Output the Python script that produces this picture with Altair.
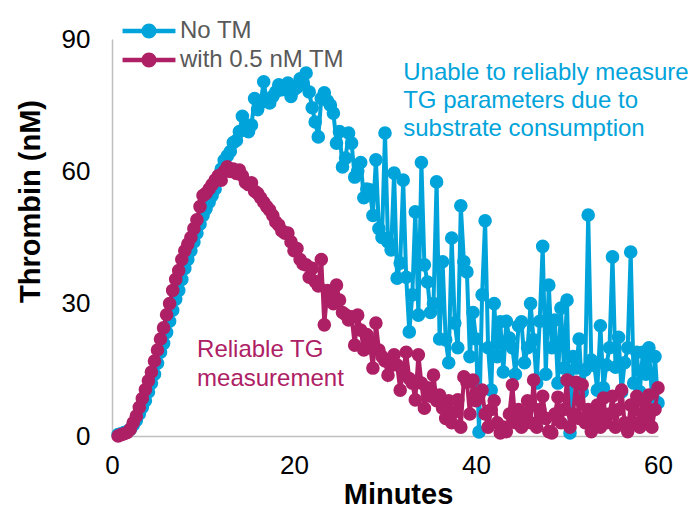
import altair as alt
import pandas as pd

# Sampling grid: one reading every 20 s (1/3 min), from 0.67 to 60 min
minutes = [round(k / 3, 2) for k in range(2, 181)]

no_tm = [
    0.3, 0.5, 0.8, 1.0, 1.5, 2.5, 3.5, 5, 6.5, 8,
    10, 12, 14, 16.5, 19, 21, 23.5, 26, 28.5, 31,
    33, 35.5, 38, 40, 42, 44, 46, 48, 50, 51.5,
    53, 54.5, 56, 58, 60.5, 62.5, 63.5, 64.5, 66.5, 67,
    69, 72.5, 70, 69, 70.5, 76.5, 74, 75.5, 80.3, 76,
    75.5, 77, 78, 79.6, 78.5, 79, 80, 77, 78.5, 79,
    81, 80, 82.3, 78, 74.4, 71.2, 67.8, 76.5, 77.8, 76,
    75, 73.2, 66.4, 69, 61, 63, 68.7, 66.4, 58.7, 60,
    62, 54, 56, 55.8, 50, 62.6, 47, 45, 68.7, 44,
    42.2, 59.6, 35.8, 39.2, 58, 36, 23.6, 32, 50.8, 27.4,
    62, 38.8, 34.9, 28, 30, 57.6, 22, 39.5, 21.8, 16.6,
    44.9, 25.6, 20, 52.2, 39.5, 37.2, 18, 28, 22, 0.9,
    32, 48.8, 20, 10.4, 30, 18, 25.9, 14.5, 26, 22.2,
    20, 14, 25, 25.9, 16.6, 20, 30, 21.8, 12, 26,
    43, 14, 34.2, 20, 26.3, 12, 29, 15.4, 30.8, 0.7,
    18, 15.4, 22, 10, 15, 50.1, 17.2, 16, 10.4, 25,
    10.9, 16.1, 20, 40.6, 15.6, 22.4, 10, 16.6, 20, 41.7,
    12, 19, 10, 19, 14, 20, 9, 18, 7.5,
]

with_tm = [
    0, 0.3, 0.5, 0.8, 1.5, 3, 4.5, 6.5, 8.5, 10.5,
    12.5, 14.5, 17, 19.5, 22, 24.5, 27.5, 30, 33, 35.5,
    37.5, 40, 42, 43.5, 45, 47, 49, 52, 54.5, 55,
    56, 57, 58, 59, 58, 60, 61, 60, 60.5, 59.5,
    60.3, 59, 57.5, 57, 57.4, 55.5, 55, 54, 53, 52,
    51.2, 50, 48.5, 47.8, 46.5, 46, 46, 44, 42, 42.5,
    40, 39, 38.8, 36, 38, 35, 34, 40, 25.2, 33,
    31, 30, 34.2, 30.8, 28, 27.5, 26.3, 27, 20.6, 27.4,
    24, 19.5, 23, 21, 15.4, 25.6, 19.5, 18, 17, 13.8,
    16, 18.4, 16.1, 10.4, 15, 19, 13, 12, 8.2, 18.4,
    12, 6.3, 10.9, 9, 13.8, 8, 9.3, 6.3, 4, 8,
    3, 5.5, 8.2, 2, 13.4, 12.2, 5, 12.7, 8, 9.3,
    10.4, 5, 2, 6, 8, 3, 0.7, 2, 1, 5,
    11.6, 3, 6, 2, 4, 8, 3, 12.7, 2, 6,
    9, 4, 1, 0.7, 5, 8.8, 3, 6, 12.7, 2,
    5, 12.2, 4, 11.6, 3, 6, 1, 4, 7, 2,
    8.6, 3, 5, 9, 2, 6, 10.4, 3, 1, 7,
    3, 9, 2, 8, 4, 9.3, 2, 6, 10.9,
]

series_names = ["No TM", "with 0.5 nM TM"]
series_colors = ["#00A3DA", "#AE2065"]

x_ticks = [0, 20, 40, 60]
y_ticks = [0, 30, 60, 90]

note_blue = ["Unable to reliably measure", "TG parameters due to", "substrate consumption"]
note_blue_x = [32.0, 32.0, 32.0]
note_blue_y = [82.3, 75.9, 69.5]
note_mag = ["Reliable TG", "measurement"]
note_mag_x = [9.35, 9.35]
note_mag_y = [19.5, 13.0]

rows = []
for t, v in zip(minutes, no_tm):
    rows.append({"Minutes": t, "Thrombin": v, "Series": series_names[0]})
for t, v in zip(minutes, with_tm):
    rows.append({"Minutes": t, "Thrombin": v, "Series": series_names[1]})
df = pd.DataFrame(rows)

notes_b = pd.DataFrame({"x": note_blue_x, "y": note_blue_y, "t": note_blue})
notes_m = pd.DataFrame({"x": note_mag_x, "y": note_mag_y, "t": note_mag})

FONT = "Liberation Sans"

xscale = alt.Scale(domain=[0, 60], nice=False)
yscale = alt.Scale(domain=[0, 90], nice=False)
xenc = alt.X("Minutes:Q", scale=xscale,
             axis=alt.Axis(values=x_ticks, title="Minutes", grid=False, ticks=False,
                           labelFlush=False,
                           domainColor="#BFBFBF", domainWidth=1.5,
                           labelFontSize=26, labelColor="black", labelFont=FONT,
                           labelPadding=16, titleFontSize=29, titleFont=FONT,
                           titleFontWeight="bold", titleColor="black",
                           titleX=286, titleY=58, titleBaseline="middle"))
yenc = alt.Y("Thrombin:Q", scale=yscale,
             axis=alt.Axis(values=y_ticks, title="Thrombin (nM)", grid=False, ticks=False,
                           labelFlush=False,
                           domainColor="#BFBFBF", domainWidth=1.5,
                           labelFontSize=26, labelColor="black", labelFont=FONT,
                           labelPadding=22, titleFontSize=29, titleFont=FONT,
                           titleFontWeight="bold", titleColor="black",
                           titleX=-82, titleY=162, titleBaseline="middle"))

fill_scale = alt.Scale(domain=series_names, range=series_colors)
sym_path = ("M-2.52,-0.214 L2.52,-0.214 L2.52,0.214 L-2.52,0.214 Z "
            "M-0.714,0 A0.714,0.714 0 1,1 0.714,0 A0.714,0.714 0 1,1 -0.714,0 Z")

layers = []
for name, col in zip(series_names, series_colors):
    base = alt.Chart(df).transform_filter(alt.datum.Series == name)
    line = base.mark_line(strokeWidth=4, color=col).encode(
        x=xenc, y=yenc,
        order="Minutes:Q",
    )
    pts = base.mark_circle(size=185, opacity=1).encode(
        x=xenc, y=yenc,
        fill=alt.Fill("Series:N", scale=fill_scale,
                      legend=alt.Legend(title=None, orient="none", legendX=25, legendY=-20,
                                        symbolType=sym_path, symbolSize=441,
                                        symbolStrokeWidth=0, symbolOpacity=1,
                                        labelOffset=19, labelLimit=400,
                                        labelFontSize=24, labelFont=FONT,
                                        labelColor="#595959", rowPadding=5, padding=0)),
    )
    layers += [line, pts]

txt_b = alt.Chart(notes_b).mark_text(align="left", baseline="middle", fontSize=24,
                                     font=FONT, color="#00A3DA").encode(
    x=alt.X("x:Q", scale=xscale), y=alt.Y("y:Q", scale=yscale), text="t:N")
txt_m = alt.Chart(notes_m).mark_text(align="left", baseline="middle", fontSize=24,
                                     font=FONT, color="#AE2065").encode(
    x=alt.X("x:Q", scale=xscale), y=alt.Y("y:Q", scale=yscale), text="t:N")

chart = alt.layer(*layers, txt_b, txt_m).resolve_scale(fill="shared").properties(
    width=546, height=397,
    autosize=alt.AutoSizeParams(type="none"),
    padding={"left": 112, "top": 39, "right": 31, "bottom": 74},
    background="white",
).configure_view(stroke=None)

chart.save("out.html", embed_options={"renderer": "svg", "actions": False})
